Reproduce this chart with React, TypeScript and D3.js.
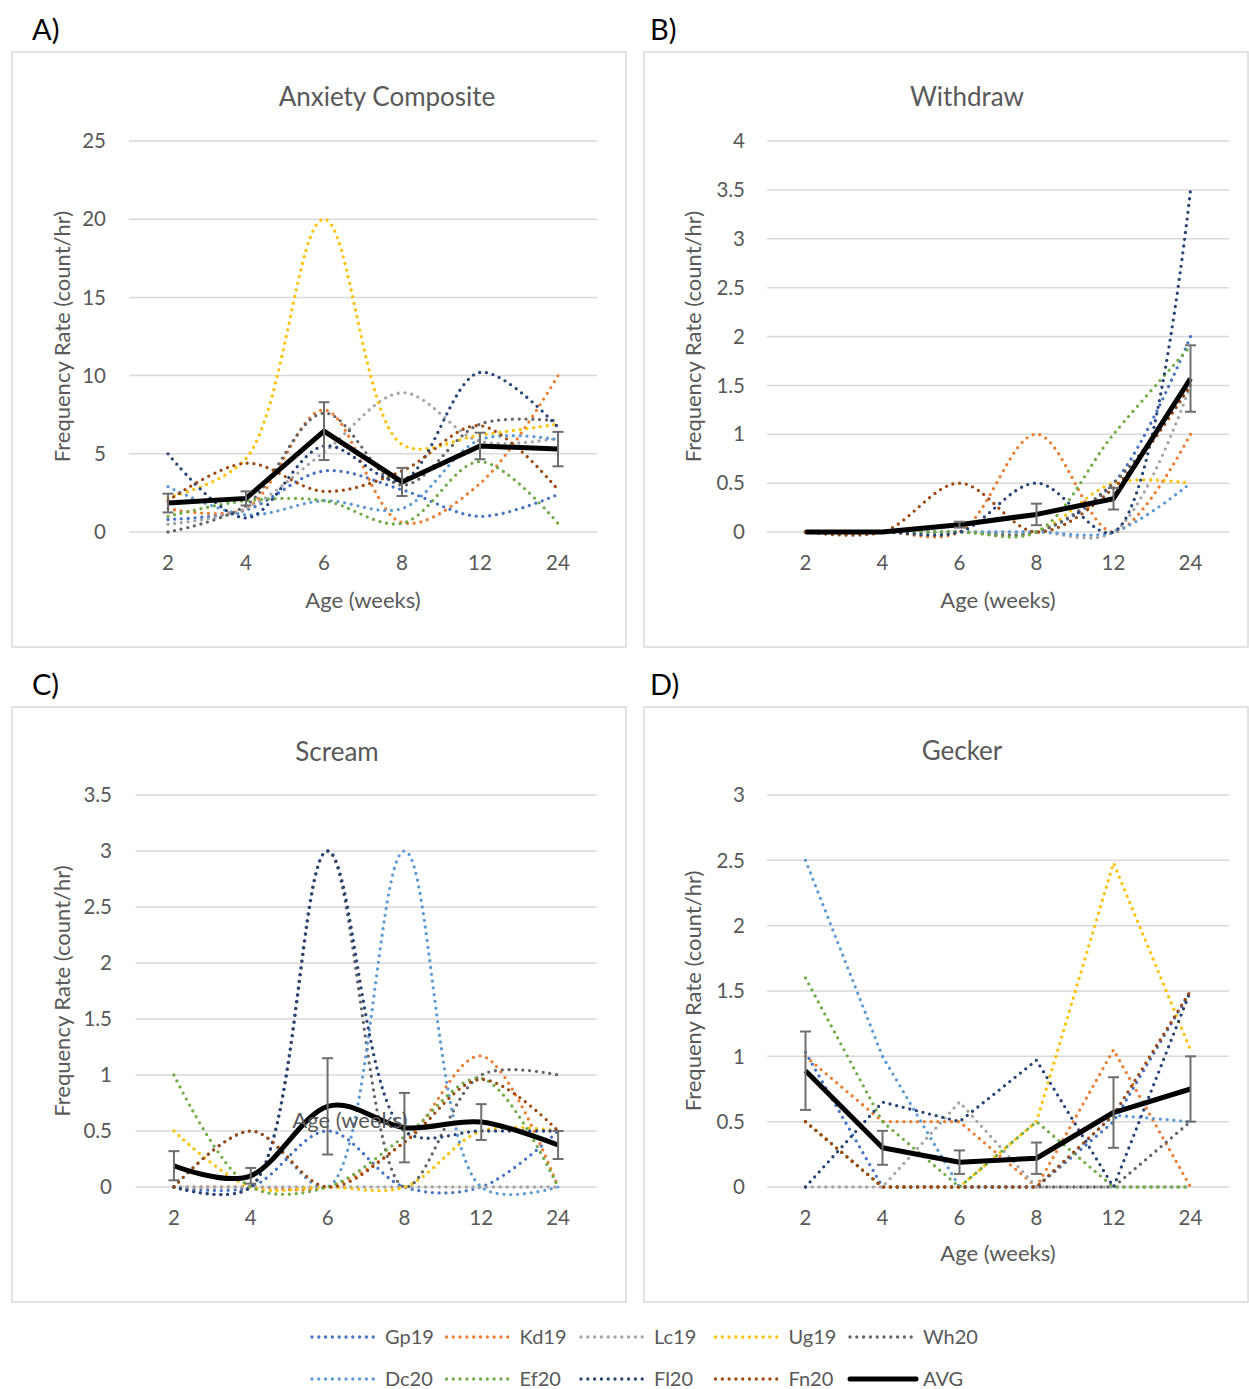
import React from "react";
import * as d3 from "d3";

const categories = ["2", "4", "6", "8", "12", "24"];
const seriesNames = ["Gp19", "Kd19", "Lc19", "Ug19", "Wh20", "Dc20", "Ef20", "Fl20", "Fn20"];
const seriesColors = ["#4472C4", "#ED7D31", "#A5A5A5", "#FFC000", "#636363", "#5B9BD5", "#70AD47", "#264478", "#9E480E"];

// A) Anxiety Composite, one row per series (same order as seriesNames)
const anxietyValues = [
  [0.8, 1.4, 3.9, 2.7, 1.0, 2.4],
  [1.5, 1.5, 7.8, 0.6, 3.1, 10.0],
  [0.5, 1.5, 5.1, 8.9, 5.8, 6.0],
  [2.2, 4.7, 20.0, 5.6, 6.2, 6.9],
  [0.0, 1.7, 7.6, 3.0, 6.9, 7.1],
  [2.9, 1.1, 2.0, 1.5, 5.9, 5.9],
  [1.0, 2.0, 2.0, 0.55, 4.5, 0.55],
  [5.0, 0.9, 5.5, 3.3, 10.2, 6.7],
  [2.0, 4.4, 2.6, 3.9, 6.8, 2.7],
];
const anxietyAvg = [1.85, 2.15, 6.45, 3.2, 5.5, 5.3];
const anxietyErr = [0.6, 0.45, 1.85, 0.9, 0.85, 1.1];

// B) Withdraw
const withdrawValues = [
  [0, 0, 0, 0, 0.5, 2.0],
  [0, 0, 0, 1.0, 0, 1.0],
  [0, 0, 0, 0, 0, 1.5],
  [0, 0, 0, 0, 0.5, 0.5],
  [0, 0, 0, 0, 0.5, 1.5],
  [0, 0, 0, 0, 0, 0.5],
  [0, 0, 0, 0, 1.0, 1.9],
  [0, 0, 0, 0.5, 0, 3.5],
  [0, 0, 0.5, 0, 0.45, 1.5],
];
const withdrawAvg = [0, 0, 0.075, 0.18, 0.34, 1.57];
const withdrawErr = [0, 0, 0.03, 0.11, 0.11, 0.34];

// C) Scream
const screamValues = [
  [0, 0, 0.5, 0, 0, 0.5],
  [0, 0, 0, 0.4, 1.17, 0],
  [0, 0, 0, 0, 0, 0],
  [0.5, 0, 0, 0, 0.5, 0.5],
  [0, 0, 3.0, 0, 1.0, 1.0],
  [0, 0.5, 0, 3.0, 0, 0],
  [1.0, 0, 0, 0.45, 0.97, 0],
  [0, 0, 3.0, 0.5, 0.5, 0.5],
  [0, 0.5, 0, 0.4, 0.96, 0.5],
];
const screamAvg = [0.19, 0.1, 0.72, 0.53, 0.58, 0.375];
const screamErr = [0.13, 0.07, 0.43, 0.31, 0.16, 0.125];

// D) Gecker
const geckerValues = [
  [1.03, 0, 0, 0, 0.5, 1.5],
  [1.0, 0.5, 0.5, 0, 1.05, 0],
  [0, 0, 0.65, 0, 0, 0],
  [0.5, 0, 0, 0.5, 2.48, 1.05],
  [0.5, 0, 0, 0, 0, 0.5],
  [2.5, 1.0, 0, 0, 0.55, 0.5],
  [1.6, 0.5, 0, 0.5, 0, 0],
  [0, 0.65, 0.5, 0.97, 0, 1.5],
  [0.5, 0, 0, 0, 0.55, 1.5],
];
const geckerAvg = [0.89, 0.3, 0.19, 0.22, 0.57, 0.75];
const geckerErr = [0.3, 0.13, 0.09, 0.12, 0.27, 0.25];

const FONT = "Lato, 'Liberation Sans', sans-serif";
const TEXT = "#595959";

const panels = [
  {
    letter: "A)", letterX: 32, letterY: 40,
    box: [12, 52, 614, 595], left: 129, right: 597, top: 141, bottom: 532,
    yMax: 25, step: 5, title: "Anxiety Composite", titleX: 387, titleY: 106,
    yLabel: "Frequency Rate (count/hr)", yLabelX: 62, tickRight: 106,
    xTitleX: 363, xTitleY: 608, values: anxietyValues, avg: anxietyAvg, err: anxietyErr,
    smoothSeries: true, smoothAvg: false,
  },
  {
    letter: "B)", letterX: 650, letterY: 40,
    box: [644, 52, 604, 595], left: 767, right: 1229, top: 141, bottom: 532,
    yMax: 4, step: 0.5, title: "Withdraw", titleX: 967, titleY: 106,
    yLabel: "Frequency Rate (count/hr)", yLabelX: 693, tickRight: 745,
    xTitleX: 998, xTitleY: 608, values: withdrawValues, avg: withdrawAvg, err: withdrawErr,
    smoothSeries: true, smoothAvg: false,
  },
  {
    letter: "C)", letterX: 32, letterY: 695,
    box: [12, 707, 614, 595], left: 135.5, right: 596.5, top: 795, bottom: 1187,
    yMax: 3.5, step: 0.5, title: "Scream", titleX: 337, titleY: 761,
    yLabel: "Frequency Rate (count/hr)", yLabelX: 62, tickRight: 112,
    xTitleX: 350, xTitleY: 1128, values: screamValues, avg: screamAvg, err: screamErr,
    smoothSeries: true, smoothAvg: true,
  },
  {
    letter: "D)", letterX: 650, letterY: 695,
    box: [644, 707, 604, 595], left: 767, right: 1229, top: 795, bottom: 1187,
    yMax: 3, step: 0.5, title: "Gecker", titleX: 962, titleY: 760,
    yLabel: "Frequeny Rate (count/hr)", yLabelX: 693, tickRight: 745,
    xTitleX: 998, xTitleY: 1261, values: geckerValues, avg: geckerAvg, err: geckerErr,
    smoothSeries: false, smoothAvg: false,
  },
];

const dotted = { strokeWidth: 3.3, strokeDasharray: "0 6.8", strokeLinecap: "round" as const };

function Panel({ p }: { p: (typeof panels)[number] }) {
  const x = d3.scalePoint<string>().domain(categories).range([p.left, p.right]).padding(0.5);
  const y = d3.scaleLinear().domain([0, p.yMax]).range([p.bottom, p.top]);
  const ticks = d3.range(0, p.yMax + 1e-9, p.step);

  const mk = (curve: d3.CurveFactory) =>
    d3
      .line<number>()
      .x((_, i) => x(categories[i]) as number)
      .y((d) => y(d))
      .curve(curve);
  // centripetal spline keeps the flat runs flat next to the big spikes
  const seriesLine = mk(p.smoothSeries ? d3.curveCatmullRom.alpha(0.5) : d3.curveLinear);
  const avgLine = mk(p.smoothAvg ? d3.curveCardinal.tension(0) : d3.curveLinear);
  const [bx, by, bw, bh] = p.box;
  const midY = (p.top + p.bottom) / 2;

  return (
    <g fontFamily={FONT}>
      <rect x={bx} y={by} width={bw} height={bh} fill="#fff" stroke="#D9D9D9" strokeWidth={1.5} />
      <text x={p.letterX} y={p.letterY} fontSize={29} fill="#000">{p.letter}</text>
      <text x={p.titleX} y={p.titleY} fontSize={26} fill={TEXT} textAnchor="middle">{p.title}</text>
      {ticks.map((t) => (
        <g key={t}>
          <line x1={p.left} x2={p.right} y1={y(t)} y2={y(t)} stroke="#D9D9D9" strokeWidth={1.5} />
          <text x={p.tickRight} y={y(t)} dy="0.35em" fontSize={20.5} fill={TEXT} textAnchor="end">
            {+t.toFixed(1)}
          </text>
        </g>
      ))}
      {categories.map((c) => (
        <text key={c} x={x(c)} y={p.bottom + 38} fontSize={20.5} fill={TEXT} textAnchor="middle">{c}</text>
      ))}
      <text
        transform={`translate(${p.yLabelX},${midY}) rotate(-90)`}
        dy="0.35em"
        fontSize={22}
        fill={TEXT}
        textAnchor="middle"
      >
        {p.yLabel}
      </text>
      {p.values.map((vals, i) => (
        <path key={seriesNames[i]} d={seriesLine(vals) ?? ""} fill="none" stroke={seriesColors[i]} {...dotted} />
      ))}
      <path d={avgLine(p.avg) ?? ""} fill="none" stroke="#000" strokeWidth={5} strokeLinejoin="round" />
      {p.avg.map((v, i) =>
        p.err[i] > 0 ? (
          <g key={i} stroke="#6E6E6E" strokeWidth={2}>
            <line x1={x(categories[i])} x2={x(categories[i])} y1={y(v - p.err[i])} y2={y(v + p.err[i])} />
            <line x1={(x(categories[i]) as number) - 5.5} x2={(x(categories[i]) as number) + 5.5} y1={y(v - p.err[i])} y2={y(v - p.err[i])} />
            <line x1={(x(categories[i]) as number) - 5.5} x2={(x(categories[i]) as number) + 5.5} y1={y(v + p.err[i])} y2={y(v + p.err[i])} />
          </g>
        ) : null
      )}
      <text x={p.xTitleX} y={p.xTitleY} fontSize={22} fill={TEXT} textAnchor="middle">Age (weeks)</text>
    </g>
  );
}

const legendOrder = ["Gp19", "Kd19", "Lc19", "Ug19", "Wh20", "Dc20", "Ef20", "Fl20", "Fn20", "AVG"];

function Legend() {
  return (
    <g fontFamily={FONT}>
      {legendOrder.map((name, k) => {
        const col = k % 5;
        const row = Math.floor(k / 5);
        const lx = 310 + col * 134.5;
        const ly = 1337 + row * 42;
        const idx = seriesNames.indexOf(name);
        return (
          <g key={name}>
            {idx >= 0 ? (
              <line x1={lx + 2} x2={lx + 65} y1={ly} y2={ly} stroke={seriesColors[idx]} {...dotted} />
            ) : (
              <line x1={lx + 2} x2={lx + 68} y1={ly} y2={ly} stroke="#000" strokeWidth={5} strokeLinecap="round" />
            )}
            <text x={lx + 75} y={ly} dy="0.35em" fontSize={20} fill={TEXT}>{name}</text>
          </g>
        );
      })}
    </g>
  );
}

export default function App() {
  return (
    <svg width={1249} height={1389} style={{ position: "absolute", left: 0, top: 0, background: "#fff" }}>
      <rect width={1249} height={1389} fill="#fff" />
      {panels.map((p) => (
        <Panel key={p.letter} p={p} />
      ))}
      <Legend />
    </svg>
  );
}
